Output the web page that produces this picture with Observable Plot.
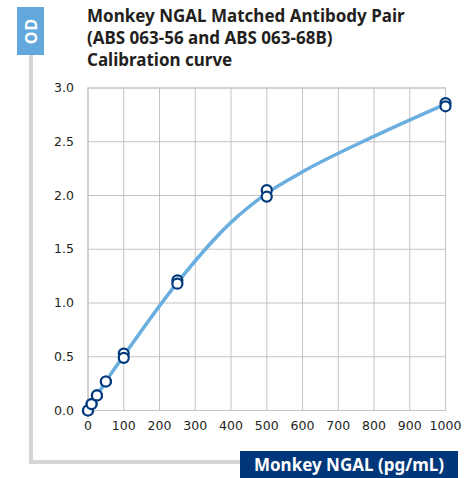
<!DOCTYPE html>
<html>
<head>
<meta charset="utf-8">
<script src="https://cdn.jsdelivr.net/npm/d3@7"></script>
<script src="https://cdn.jsdelivr.net/npm/@observablehq/plot@0.6"></script>
<style>
  html, body { margin: 0; padding: 0; background: #fff; }
  #wrap { position: relative; width: 473px; height: 478px; overflow: hidden; font-family: "Noto Sans", sans-serif; }
  #title { position: absolute; left: 87px; top: 5px; font-weight: 700; font-size: 17px; line-height: 22px; color: #231f20; }
  #odbox { position: absolute; left: 17px; top: 7px; width: 27px; height: 48px; background: #62a8dd; }
  #odbox span { position: absolute; left: 50%; top: 50%; transform: translate(-50%, -50%) rotate(-90deg); color: #fff; font-weight: 700; font-size: 16px; letter-spacing: 1px; }
  #vline { position: absolute; left: 29px; top: 55px; width: 4px; height: 409px; background: #d3d5d7; }
  #hline { position: absolute; left: 29px; top: 460px; width: 212px; height: 4px; background: #d3d5d7; }
  #xbox { position: absolute; left: 240px; top: 451px; width: 218px; height: 27px; background: #00377a; color: #fff; font-weight: 700; font-size: 17px; line-height: 27px; text-align: center; }
  #chart { position: absolute; left: 0; top: 0; }
</style>
</head>
<body>
<div id="wrap">
  <div id="vline"></div>
  <div id="hline"></div>
  <div id="odbox"><span>OD</span></div>
  <div id="title">Monkey NGAL Matched Antibody Pair<br>(ABS 063-56 and ABS 063-68B)<br>Calibration curve</div>
  <div id="chart"></div>
  <div id="xbox">Monkey NGAL (pg/mL)</div>
</div>
<script>
// Concentrations (pg/mL), duplicate OD readings
const conc = [0, 10, 25, 50, 100, 250, 500, 1000];
const odRep1 = [0.00, 0.06, 0.14, 0.27, 0.53, 1.21, 2.05, 2.86];
const odRep2 = [0.00, 0.06, 0.14, 0.27, 0.49, 1.18, 1.99, 2.83];
// fitted calibration curve
const curveX = [0, 10, 25, 50, 100, 250, 400, 500, 600, 800, 1000];
const curveY = [0.00, 0.06, 0.14, 0.27, 0.51, 1.19, 1.75, 2.02, 2.22, 2.55, 2.85];
const xTicks = [0, 100, 200, 300, 400, 500, 600, 700, 800, 900, 1000];
const yTicks = [0, 0.5, 1, 1.5, 2, 2.5, 3];

const points = conc.flatMap((c, i) => [{x: c, y: odRep1[i]}, {x: c, y: odRep2[i]}]);
const curve = curveX.map((x, i) => ({x, y: curveY[i]}));

const chart = Plot.plot({
  width: 473,
  height: 440,
  marginLeft: 87.5,
  marginRight: 28,
  marginTop: 87.5,
  marginBottom: 30,
  style: {fontFamily: "DejaVu Sans, sans-serif", fontSize: "12.5px", color: "#231f20", background: "transparent"},
  x: {domain: [0, 1000], ticks: xTicks, tickSize: 0, tickPadding: 11, label: null, tickFormat: d3.format("d")},
  y: {domain: [0, 3], ticks: yTicks, tickSize: 0, tickPadding: 14, label: null, tickFormat: d3.format(".1f")},
  marks: [
    Plot.gridX(xTicks, {stroke: "#c4c4c4", strokeOpacity: 1}),
    Plot.gridY(yTicks, {stroke: "#c4c4c4", strokeOpacity: 1}),
    Plot.frame({stroke: "#c4c4c4"}),
    Plot.line(curve, {x: "x", y: "y", curve: "monotone-x", stroke: "#6aaee0", strokeWidth: 3.5}),
    Plot.dot(points, {x: "x", y: "y", r: 5, fill: "#fff", stroke: "#003a7d", strokeWidth: 2.2})
  ]
});
document.getElementById("chart").appendChild(chart);
</script>
</body>
</html>
